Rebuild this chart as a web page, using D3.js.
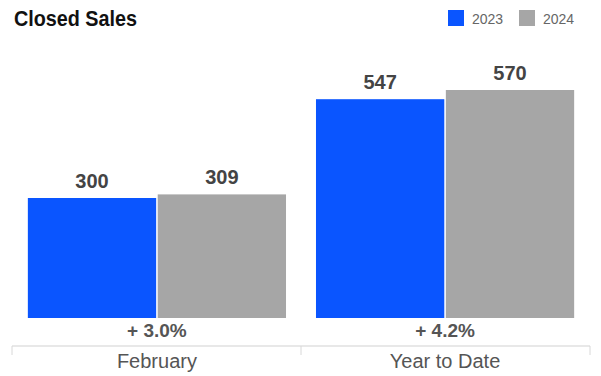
<!DOCTYPE html>
<html lang="en">
<head>
  <meta charset="UTF-8">
  <title>Closed Sales</title>
  <style>
    body { margin: 0; background: #fff; font-family: "Liberation Sans", Arial, sans-serif; }
    svg { display: block; }
    .title { font-family: "Liberation Sans", sans-serif; font-weight: bold; font-size: 22px; fill: #111; }
    .legend text { font-size: 14px; fill: #666; }
    .value { font-size: 20px; font-weight: bold; fill: #444; text-anchor: middle; }
    .change { font-size: 19px; font-weight: bold; fill: #555; text-anchor: middle; }
    .cat { font-size: 20px; fill: #555; text-anchor: middle; }
  </style>
</head>
<body>
  <svg width="601" height="376"></svg>
  <script src="https://d3js.org/d3.v7.min.js"></script>
  <script>
  const categories = ["February", "Year to Date"];
  const years = ["2023", "2024"];
  const sales2023 = [300, 547];
  const sales2024 = [309, 570];
  const changes = ["+ 3.0%", "+ 4.2%"];
  const colors = ["#0a55ff", "#a6a6a6"];

  const svg = d3.select("svg");
  const baseY = 318;

  const x = d3.scaleBand()
    .domain(categories)
    .range([12, 590])
    .paddingInner(0.104)
    .paddingOuter(0.055);

  const xSub = d3.scaleBand()
    .domain(years)
    .range([0, x.bandwidth()])
    .paddingInner(0.012);

  const y = d3.scaleLinear()
    .domain([0, 700])
    .range([baseY, 38]);

  // title (condensed look via textLength, no narrow font installed)
  svg.append("text")
    .attr("class", "title")
    .attr("x", 14)
    .attr("y", 26)
    .attr("textLength", 123)
    .attr("lengthAdjust", "spacingAndGlyphs")
    .text("Closed Sales");

  // legend
  const legend = svg.append("g").attr("class", "legend");
  const legendX = [448, 519];
  years.forEach((yr, i) => {
    legend.append("rect")
      .attr("x", legendX[i]).attr("y", 10)
      .attr("width", 16).attr("height", 16)
      .attr("fill", colors[i]);
    legend.append("text")
      .attr("x", legendX[i] + 24).attr("y", 24)
      .text(yr);
  });

  const rows = categories.map((c, i) => ({
    cat: c,
    vals: [sales2023[i], sales2024[i]],
    change: changes[i]
  }));

  const group = svg.append("g")
    .selectAll("g")
    .data(rows)
    .join("g")
    .attr("transform", d => `translate(${x(d.cat)},0)`);

  group.selectAll("rect")
    .data(d => d.vals.map((v, i) => ({ key: years[i], v, i })))
    .join("rect")
    .attr("x", d => xSub(d.key))
    .attr("y", d => y(d.v))
    .attr("width", xSub.bandwidth())
    .attr("height", d => y(0) - y(d.v))
    .attr("fill", d => colors[d.i]);

  group.selectAll("text.value")
    .data(d => d.vals.map((v, i) => ({ key: years[i], v })))
    .join("text")
    .attr("class", "value")
    .attr("x", d => xSub(d.key) + xSub.bandwidth() / 2)
    .attr("y", d => y(d.v) - 10)
    .text(d => d.v);

  group.append("text")
    .attr("class", "change")
    .attr("x", x.bandwidth() / 2)
    .attr("y", 337)
    .text(d => d.change);

  // bottom axis
  const axis = svg.append("g").attr("transform", "translate(0,346)");
  axis.append("line")
    .attr("x1", 12).attr("x2", 590)
    .attr("stroke", "#e0e0e0").attr("stroke-width", 1.5);
  const edges = [12, 12 + (590 - 12) / 2, 590];
  axis.selectAll("line.tick")
    .data(edges)
    .join("line")
    .attr("class", "tick")
    .attr("x1", d => d).attr("x2", d => d)
    .attr("y1", 0).attr("y2", 9)
    .attr("stroke", "#d8d8d8");

  axis.selectAll("text")
    .data(categories)
    .join("text")
    .attr("class", "cat")
    .attr("x", d => x(d) + x.bandwidth() / 2)
    .attr("y", 22)
    .text(d => d);
  </script>
</body>
</html>
